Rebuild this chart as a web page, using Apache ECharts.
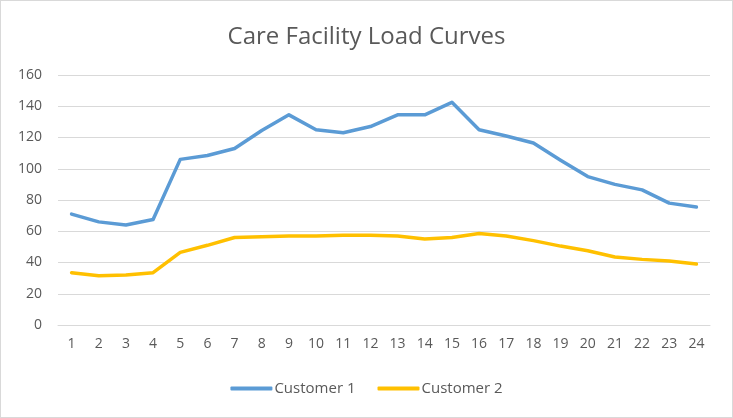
<!DOCTYPE html>
<html>
<head>
<meta charset="utf-8">
<script src="https://cdn.jsdelivr.net/npm/echarts@6/dist/echarts.min.js"></script>
<style>
body { margin: 0; background: #fff; }
#chart { width: 731px; height: 416px; border: 1px solid #d9d9d9; }
</style>
</head>
<body>
<div id="chart"></div>
<script>
var hours = ['1','2','3','4','5','6','7','8','9','10','11','12','13','14','15','16','17','18','19','20','21','22','23','24'];
var customer1 = [71, 66, 64, 67.5, 106, 108.5, 113, 124.5, 134.5, 125, 123, 127, 134.5, 134.5, 142.5, 125, 121, 116.5, 105.5, 95, 90, 86.5, 78, 75.5];
var customer2 = [33.5, 31.5, 32, 33.5, 46.5, 51, 56, 56.5, 57, 57, 57.5, 57.5, 57, 55, 56, 58.5, 57, 54, 50.5, 47.5, 43.5, 42, 41, 39];

var option = {
    animation: false,
    title: {
        text: 'Care Facility Load Curves',
        left: 'center',
        top: 19,
        textStyle: {
            fontFamily: 'Open Sans',
            fontSize: 24,
            fontWeight: 'normal',
            color: '#595959'
        }
    },
    legend: {
        bottom: 16,
        left: 'center',
        itemWidth: 42,
        itemHeight: 4,
        itemGap: 22,
        icon: 'roundRect',
        textStyle: { fontFamily: 'Open Sans', fontSize: 15, color: '#595959', padding: [0, 0, 0, -3] },
        data: ['Customer 1', 'Customer 2']
    },
    grid: {
        left: 57,
        right: 22,
        top: 74,
        bottom: 92
    },
    xAxis: {
        type: 'category',
        data: hours,
        axisLine: { lineStyle: { color: '#d9d9d9' } },
        axisTick: { show: false },
        axisLabel: { fontFamily: 'Open Sans', fontSize: 14, color: '#595959', margin: 12, interval: 0 }
    },
    yAxis: {
        type: 'value',
        min: 0,
        max: 160,
        interval: 20,
        axisLine: { show: false },
        axisTick: { show: false },
        splitLine: { lineStyle: { color: '#d9d9d9' } },
        axisLabel: { fontFamily: 'Open Sans', fontSize: 14, color: '#595959', margin: 16 }
    },
    series: [
        {
            name: 'Customer 1',
            type: 'line',
            data: customer1,
            symbol: 'none',
            itemStyle: { color: '#5b9bd5' },
            lineStyle: { width: 3.5, color: '#5b9bd5', cap: 'round', join: 'round' }
        },
        {
            name: 'Customer 2',
            type: 'line',
            data: customer2,
            symbol: 'none',
            itemStyle: { color: '#ffc000' },
            lineStyle: { width: 3.5, color: '#ffc000', cap: 'round', join: 'round' }
        }
    ]
};

var myChart = echarts.init(document.getElementById('chart'));
myChart.setOption(option);
</script>
</body>
</html>
